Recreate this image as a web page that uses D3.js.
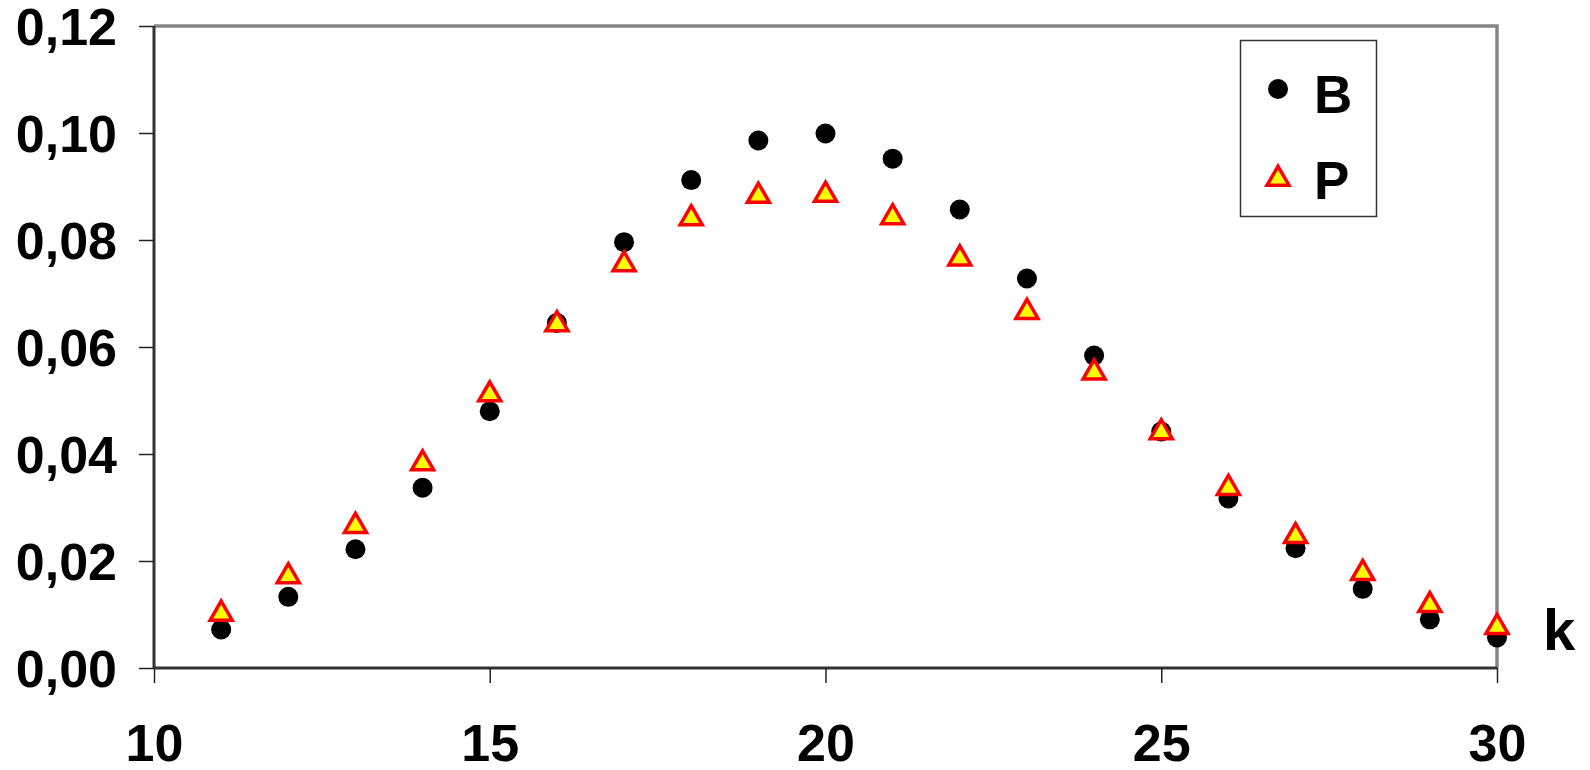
<!doctype HTML>
<html>
<head>
    <script src="https://d3js.org/d3.v7.min.js"></script>
    <style>
        body { margin: 0; background: #fff; }
        text { font-family: "Liberation Sans", Arial, sans-serif; font-weight: bold; fill: #000; }
    </style>
</head>
<body>
<script>
    // values
    var kValues = [11, 12, 13, 14, 15, 16, 17, 18, 19, 20, 21, 22, 23, 24, 25, 26, 27, 28, 29, 30];
    var bValues = [0.0072, 0.0133, 0.0222, 0.0337, 0.0480, 0.0645, 0.0796, 0.0912, 0.0986, 0.0999,
                   0.0952, 0.0857, 0.0728, 0.0584, 0.0442, 0.0317, 0.0224, 0.0148, 0.0091, 0.0057];
    var pValues = [0.0105, 0.0175, 0.0269, 0.0386, 0.0515, 0.0646, 0.0758, 0.0844, 0.0886, 0.0888,
                   0.0846, 0.0769, 0.0669, 0.0556, 0.0444, 0.0340, 0.0250, 0.0181, 0.0121, 0.0080];
    var xTicks = [10, 15, 20, 25, 30];
    var yTicks = [0, 0.02, 0.04, 0.06, 0.08, 0.10, 0.12];
    var legendLabels = ["B", "P"];

    var canvasWidth = 1590;
    var canvasHeight = 770;

    var svg = d3.select("body").append("svg")
        .attr("width", canvasWidth)
        .attr("height", canvasHeight);

    var plotLeft = 154, plotRight = 1497, plotTop = 26, plotBottom = 668;

    var xScale = d3.scaleLinear().domain([10, 30]).range([plotLeft, plotRight]);
    var yScale = d3.scaleLinear().domain([0, 0.12]).range([plotBottom, plotTop]);

    // plot area border (top and right, gray)
    svg.append("path")
        .attr("d", "M" + plotLeft + "," + plotTop + "H" + plotRight + "V" + plotBottom)
        .attr("fill", "none")
        .attr("stroke", "#868686")
        .attr("stroke-width", 3.5);

    var fmt = function(d) { return d3.format(".2f")(d).replace(".", ","); };

    // Y axis
    var yAxis = svg.append("g")
        .attr("transform", "translate(" + plotLeft + ",0)")
        .call(d3.axisLeft(yScale).tickValues(yTicks).tickSize(15).tickPadding(22).tickFormat(fmt));
    yAxis.select(".domain").attr("d", "M0," + plotTop + "V" + plotBottom)
        .attr("stroke", "#333").attr("stroke-width", 3);
    yAxis.selectAll(".tick line").attr("stroke", "#222").attr("stroke-width", 1.5);
    yAxis.selectAll(".tick text")
        .attr("font-size", "52px")
        .attr("font-family", "Liberation Sans, Arial, sans-serif")
        .attr("dy", "0.36em");

    // X axis
    var xAxis = svg.append("g")
        .attr("transform", "translate(0," + plotBottom + ")")
        .call(d3.axisBottom(xScale).tickValues(xTicks).tickSize(15).tickPadding(41));
    xAxis.select(".domain").attr("d", "M" + plotLeft + ",0H" + plotRight)
        .attr("stroke", "#333").attr("stroke-width", 3);
    xAxis.selectAll(".tick line").attr("stroke", "#222").attr("stroke-width", 1.5);
    xAxis.selectAll(".tick text")
        .attr("font-size", "52px")
        .attr("font-family", "Liberation Sans, Arial, sans-serif");

    // axis label k
    svg.append("text")
        .attr("x", 1543)
        .attr("y", 650)
        .attr("font-size", "58px")
        .text("k");

    var triangle = d3.symbol().type(d3.symbolTriangle).size(210);

    // B: black circles
    svg.append("g").selectAll("circle")
        .data(kValues)
        .enter().append("circle")
        .attr("cx", function(d) { return xScale(d); })
        .attr("cy", function(d, i) { return yScale(bValues[i]); })
        .attr("r", 10)
        .attr("fill", "#000");

    // P: yellow triangles with red border
    svg.append("g").selectAll("path")
        .data(kValues)
        .enter().append("path")
        .attr("d", triangle)
        .attr("transform", function(d, i) {
            return "translate(" + xScale(d) + "," + (yScale(pValues[i]) + 2) + ")";
        })
        .attr("fill", "#ffff00")
        .attr("stroke", "#ff0000")
        .attr("stroke-width", 3.5);

    // legend
    var legend = svg.append("g");
    legend.append("rect")
        .attr("x", 1240.5).attr("y", 40.5)
        .attr("width", 136).attr("height", 176)
        .attr("fill", "#fff")
        .attr("stroke", "#333")
        .attr("stroke-width", 1.5);
    legend.append("circle")
        .attr("cx", 1278).attr("cy", 89).attr("r", 10)
        .attr("fill", "#000");
    legend.append("path")
        .attr("d", triangle)
        .attr("transform", "translate(1278,179)")
        .attr("fill", "#ffff00")
        .attr("stroke", "#ff0000")
        .attr("stroke-width", 3.5);
    legend.selectAll("text.lbl")
        .data(legendLabels)
        .enter().append("text")
        .attr("class", "lbl")
        .attr("x", 1314)
        .attr("y", function(d, i) { return 113 + i * 86; })
        .attr("font-size", "53px")
        .text(function(d) { return d; });
</script>
</body>
</html>
